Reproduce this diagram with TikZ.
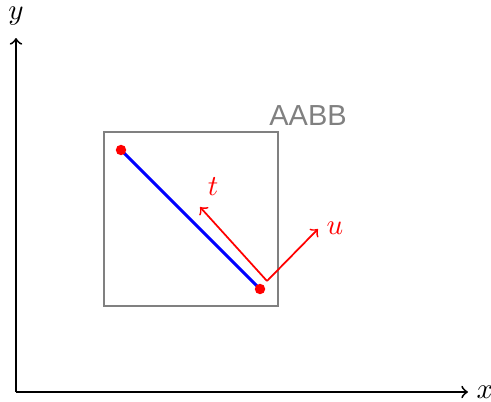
\documentclass[tikz,border=0pt]{standalone}
\usepackage{fontspec}
\newfontfamily\labelsans{Liberation Sans}
\begin{document}
\begin{tikzpicture}[x=0.345pt,y=0.345pt,
  axis/.style={->,black,line width=0.65pt},
  aabbbox/.style={draw=gray,line width=0.7pt},
  seg/.style={blue,line width=1pt},
  vec/.style={->,red,line width=0.6pt},
  dot/.style={circle,fill=red,inner sep=0pt,minimum size=3.6pt},
  mlabel/.style={inner sep=0pt}]
\useasboundingbox (0,0) rectangle (491,401);
\coordinate (O) at (16,9);
\coordinate (X) at (468,9);
\coordinate (Y) at (16,363);
\draw[axis] (O) -- (X);
\draw[axis] (O) -- (Y);
\node[mlabel] (xl) at (485,9) {$x$};
\node[mlabel] (yl) at (16,385) {$y$};
\node[aabbbox,minimum width=174*0.345pt,minimum height=174*0.345pt,inner sep=0pt] (box) at (191,182) {};
\node[gray,font=\labelsans] (aabb) at (308,285) {AABB};
\coordinate (p1c) at (121,251);
\coordinate (p2c) at (260,112);
\draw[seg] (p1c) -- (p2c);
\node[dot] (p1) at (p1c) {};
\node[dot] (p2) at (p2c) {};
\coordinate (V) at (267,120);
\coordinate (T) at (200,194);
\coordinate (U) at (318,172);
\draw[vec] (V) -- (T);
\draw[vec] (V) -- (U);
\node[red] (tl) at (213,214) {$t$};
\node[red] (ul) at (335,173) {$u$};
\end{tikzpicture}
\end{document}
